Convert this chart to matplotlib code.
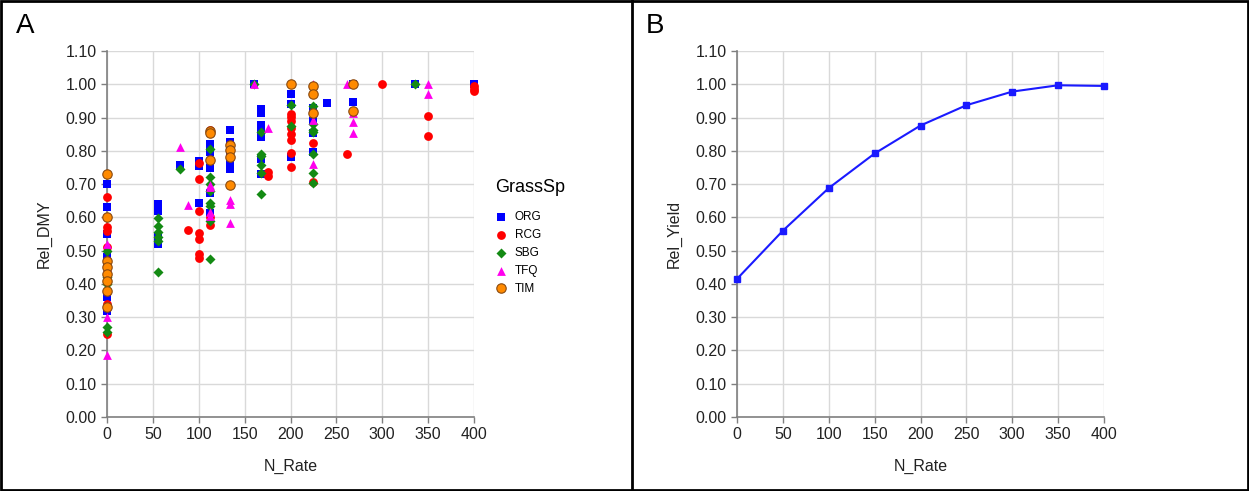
#Import resource library
import matplotlib
matplotlib.use('Agg')
import matplotlib.pyplot as plt
from matplotlib.lines import Line2D
import numpy as np

plt.rcParams['font.family'] = ['Liberation Sans', 'DejaVu Sans']

#Panel A data: N rate and relative dry matter yield per grass species
org_n = [0, 0, 0, 0, 0, 0, 0, 56, 56, 56, 56, 56, 80, 100, 100, 100,
         112, 112, 112, 112, 112, 112, 134, 134, 134, 134, 134, 160,
         168, 168, 168, 168, 168, 168, 168, 200, 200, 200, 224, 224, 224, 224,
         240, 268, 268, 336, 400]
org_y = [0.70, 0.63, 0.55, 0.48, 0.46, 0.36, 0.32, 0.64, 0.63, 0.62, 0.545, 0.52, 0.757, 0.77, 0.755, 0.642,
         0.82, 0.81, 0.795, 0.747, 0.672, 0.612, 0.862, 0.826, 0.80, 0.767, 0.744, 1.0,
         0.925, 0.915, 0.877, 0.865, 0.842, 0.774, 0.73, 0.97, 0.94, 0.78, 0.93, 0.89, 0.855, 0.795,
         0.943, 1.0, 0.946, 1.0, 1.0]

rcg_n = [0, 0, 0, 0, 0, 0, 88, 100, 100, 100, 100, 100, 100, 100,
         112, 112, 112, 175, 175, 200, 200, 200, 200, 200, 200, 200, 200,
         224, 224, 262, 300, 350, 350, 400, 400, 400]
rcg_y = [0.66, 0.57, 0.56, 0.51, 0.34, 0.25, 0.561, 0.763, 0.714, 0.62, 0.552, 0.534, 0.49, 0.478,
         0.862, 0.60, 0.577, 0.735, 0.725, 0.912, 0.902, 0.89, 0.87, 0.852, 0.832, 0.792, 0.75,
         0.824, 0.706, 0.79, 1.0, 0.904, 0.845, 0.995, 0.987, 0.98]

sbg_n = [0, 0, 0, 0, 0, 56, 56, 56, 56, 56, 56, 80,
         112, 112, 112, 112, 112, 112, 112, 112, 160,
         168, 168, 168, 168, 168, 168, 200, 200,
         224, 224, 224, 224, 224, 224, 224, 336]
sbg_y = [0.50, 0.42, 0.40, 0.27, 0.256, 0.597, 0.575, 0.555, 0.54, 0.53, 0.435, 0.745,
         0.805, 0.722, 0.70, 0.68, 0.642, 0.634, 0.59, 0.474, 1.0,
         0.857, 0.79, 0.784, 0.757, 0.732, 0.669, 0.939, 0.874,
         0.935, 0.88, 0.864, 0.857, 0.79, 0.732, 0.704, 1.0]

tfq_n = [0, 0, 0, 0, 80, 88, 112, 112, 112, 112, 134, 134, 134, 160, 175,
         224, 224, 224, 262, 268, 268, 268, 350, 350]
tfq_y = [0.52, 0.45, 0.30, 0.185, 0.81, 0.637, 0.697, 0.69, 0.617, 0.605, 0.652, 0.64, 0.582, 1.0, 0.87,
         1.0, 0.892, 0.76, 1.0, 0.915, 0.887, 0.854, 1.0, 0.971]

tim_n = [0, 0, 0, 0, 0, 0, 0, 0, 112, 112, 112, 134, 134, 134, 134,
         200, 224, 224, 224, 268, 268]
tim_y = [0.73, 0.60, 0.47, 0.45, 0.43, 0.41, 0.38, 0.33, 0.859, 0.855, 0.773, 0.817, 0.802, 0.782, 0.696,
         1.0, 0.994, 0.97, 0.914, 1.0, 0.921]

#Panel B data: fitted relative yield
rate_b = [0, 50, 100, 150, 200, 250, 300, 350, 400]
yield_b = [0.415, 0.56, 0.688, 0.792, 0.876, 0.937, 0.978, 0.997, 0.995]

#Figure and the two panels
W, H = 1249, 491
fig = plt.figure(figsize=(W / 100, H / 100), dpi=100)
axA = fig.add_axes([107 / W, 1 - 417 / H, 367 / W, 366 / H])
axB = fig.add_axes([737 / W, 1 - 417 / H, 367 / W, 366 / H])

#Common axis styling
for ax in (axA, axB):
    ax.set_xlim(0, 400)
    ax.set_ylim(0, 1.10)
    ax.set_xticks(np.arange(0, 401, 50))
    ax.set_yticks(np.arange(0, 1.101, 0.1))
    ax.set_yticklabels(['%.2f' % v for v in np.arange(0, 1.101, 0.1)])
    ax.grid(True, color='#d9d9d9', linewidth=1)
    ax.set_axisbelow(True)
    for s in ('top', 'right'):
        ax.spines[s].set_visible(False)
    for s in ('left', 'bottom'):
        ax.spines[s].set_color('#7f7f7f')
        ax.spines[s].set_linewidth(1.2)
    ax.tick_params(colors='#7f7f7f', labelcolor='#222222', labelsize=11.5, length=4, width=1)
    ax.set_xlabel('N_Rate', fontsize=11.5, color='#222222', labelpad=12)

axA.set_ylabel('Rel_DMY', fontsize=11.5, color='#222222', labelpad=10)
axB.set_ylabel('Rel_Yield', fontsize=11.5, color='#222222', labelpad=10)

#Scatter for panel A
axA.scatter(org_n, org_y, marker='s', s=34, color='#0000ff', linewidths=0, label='ORG', zorder=3, clip_on=False)
axA.scatter(rcg_n, rcg_y, marker='o', s=40, color='#ff0000', linewidths=0, label='RCG', zorder=3, clip_on=False)
axA.scatter(sbg_n, sbg_y, marker='D', s=26, color='#138a13', linewidths=0, label='SBG', zorder=3, clip_on=False)
axA.scatter(tfq_n, tfq_y, marker='^', s=40, color='#ff00ee', linewidths=0, label='TFQ', zorder=3, clip_on=False)
axA.scatter(tim_n, tim_y, marker='o', s=46, color='#ff8a00', edgecolors='#8a4a10', linewidths=0.8,
            label='TIM', zorder=3, clip_on=False)

leg = axA.legend(loc='upper left', bbox_to_anchor=(484 / W, 1 - 168 / H), bbox_transform=fig.transFigure,
                 frameon=False, title='GrassSp', alignment='left', fontsize=8.5, title_fontsize=13,
                 handletextpad=0.7, labelspacing=0.5, handlelength=1.0, markerscale=1.0)
#Extra room between legend title and entries
leg._legend_box.sep = 11

#Line for panel B
axB.plot(rate_b, yield_b, color='#1a1aff', linewidth=1.5, marker='s', markersize=5,
         markerfacecolor='#1a1aff', markeredgecolor='#1a1aff', zorder=3, clip_on=False)

#Panel letters
fig.text(16 / W, 1 - 33 / H, 'A', fontsize=20, va='baseline', ha='left')
fig.text(646 / W, 1 - 33 / H, 'B', fontsize=20, va='baseline', ha='left')

#Borders around the panels
fig.add_artist(plt.Rectangle((0.001, 0.002), 0.998, 0.996, transform=fig.transFigure,
                             fill=False, edgecolor='black', linewidth=2))
fig.add_artist(Line2D([632 / W, 632 / W], [0, 1], transform=fig.transFigure, color='black', linewidth=2))

fig.savefig('out.png', dpi=100)
